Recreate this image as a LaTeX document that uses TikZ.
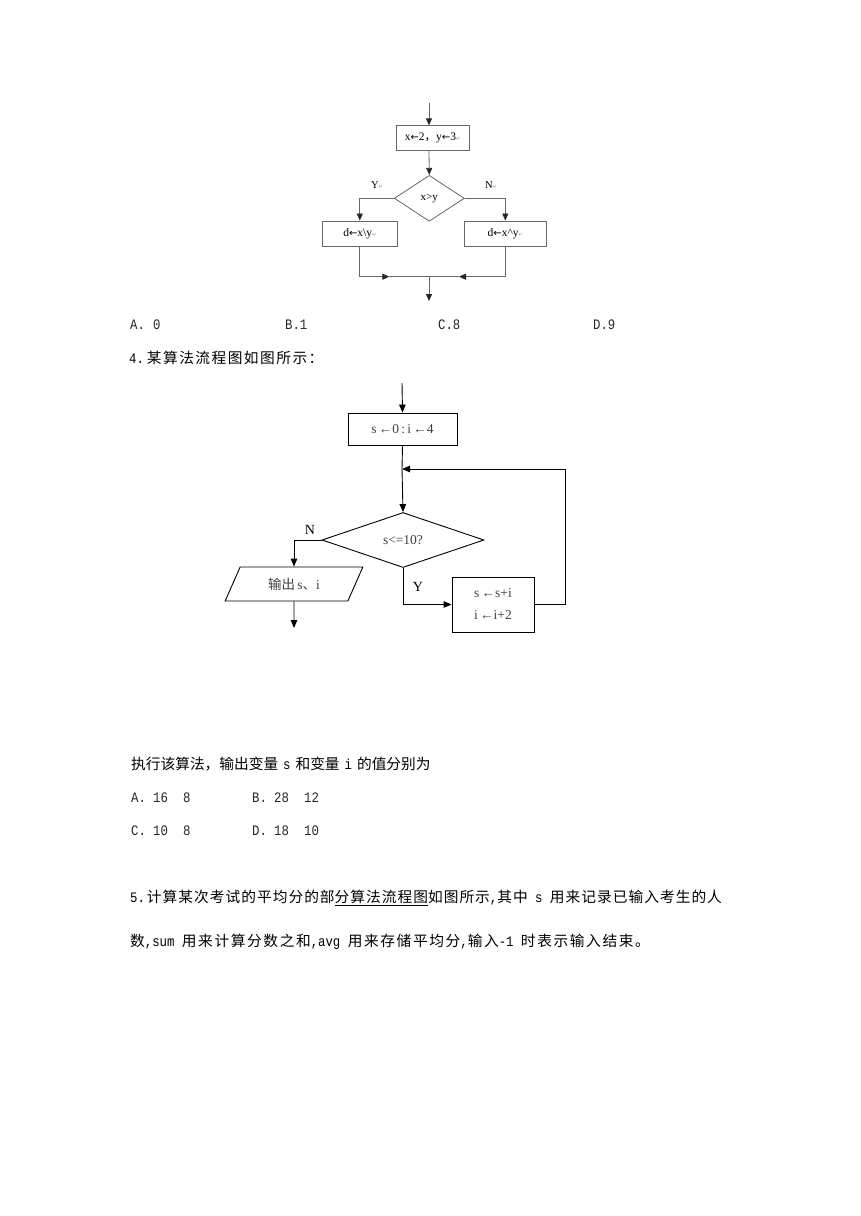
\documentclass[tikz,border=0pt]{standalone}
\usepackage{fontspec}
\setmainfont{Liberation Serif}
\newfontfamily\cjk{Noto Sans CJK SC}
\newfontfamily\cjkA[LetterSpace=10]{Noto Sans CJK SC}
\newfontfamily\cjkB[LetterSpace=7]{Noto Sans CJK SC}
\newfontfamily\cjkC[LetterSpace=11]{Noto Sans CJK SC}
\newfontfamily\mono[FakeStretch=0.85]{Liberation Mono}
\newfontfamily\symf{DejaVu Sans}
\usetikzlibrary{arrows.meta,shapes.geometric}
\newcommand{\rt}{{\symf\fontsize{5}{5}\selectfont\color{black!45}↵}}
\newcommand{\la}{{\symf\fontsize{10}{10}\selectfont ←}}
\newcommand{\lat}[1]{{\mono\fontsize{14.5}{16}\selectfont #1}}
\tikzset{
  gl/.style={draw=black!60, line width=0.8pt},
  bl/.style={draw=black, line width=0.9pt},
  tip1/.style={-{Triangle[length=7pt,width=6pt,color=black!85]}},
  tip2/.style={-{Triangle[length=8pt,width=6.5pt]}},
  boxa/.style={gl, rectangle, inner sep=0pt, font=\fontsize{11.5}{12}\selectfont},
  boxb/.style={bl, rectangle, inner sep=0pt, text=black!75, font=\fontsize{13.5}{22}\selectfont, align=center},
  lab/.style={inner sep=0pt, font=\fontsize{10.5}{12}\selectfont},
  labb/.style={inner sep=0pt, font=\fontsize{14}{16}\selectfont},
  txt/.style={anchor=west, inner sep=0pt, font=\fontsize{14.7}{16}\selectfont},
  opt/.style={anchor=west, inner sep=0pt, text=black!85, font=\mono\fontsize{14.5}{16}\selectfont}
}
\begin{document}
\begin{tikzpicture}[x=1pt,y=-1pt]
\useasboundingbox (0,0) rectangle (860,1216);
% ---------- flowchart 1 ----------
\coordinate (f1top) at (429,103);
\node[boxa, minimum width=73, minimum height=24.5] (b1) at (432.5,138) {x\la2{\cjk ，}y\la3\rt};
\node[gl, diamond, inner sep=0pt, minimum width=70, minimum height=46, font=\fontsize{11}{12}\selectfont] (d1) at (429.3,198.3) {x>y};
\node[boxa, minimum width=75, minimum height=25.7] (lb) at (359.8,233.8) {d\la x\textbackslash y\rt};
\node[boxa, minimum width=82.7, minimum height=25.7] (rb) at (505.3,233.8) {d\la x\textasciicircum y\rt};
\node[lab] (ly) at (377,185) {Y\rt};
\node[lab] (ln) at (491,185) {N\rt};
\coordinate (aL) at (389.3,276.7);
\coordinate (aR) at (459,276.7);
\coordinate (jM) at (429,276.7);
\coordinate (e1) at (429,301);
\draw[gl, tip1] (f1top) -- (f1top |- b1.north);
\draw[gl, tip1] (f1top |- b1.south) -- (d1.north);
\draw[gl, tip1] (d1.west) -| (lb.north);
\draw[gl, tip1] (d1.east) -| (rb.north);
\draw[gl, tip1] (lb.south) |- (aL);
\draw[gl] (aL) -- (jM);
\draw[gl, tip1] (rb.south) |- (aR);
\draw[gl] (aR) -- (jM);
\draw[gl, tip1] (jM) -- (e1);
% ---------- text ----------
\node[opt] (oa) at (130,325) {\makebox[23pt][l]{A.}0};
\node[opt] (ob) at (285,325) {B.1};
\node[opt] (oc) at (438,325) {C.8};
\node[opt] (od) at (593,325) {D.9};
\node[txt] (q4) at (129,358) {\lat{4.}\hspace{3pt}{\cjkA 某算法流程图如图所示：}};
% ---------- flowchart 2 ----------
\coordinate (t2) at (402,383);
\node[boxb, minimum width=109, minimum height=32] (b2) at (402.5,429) {s\,←0\,:\,i\,←4};
\coordinate (j2) at (402,469);
\node[bl, diamond, inner sep=0pt, minimum width=162, minimum height=55, text=black!75, font=\fontsize{13.5}{16}\selectfont] (d2) at (403,540) {s<=10?};
\node[bl, trapezium, trapezium left angle=60, trapezium right angle=120, trapezium stretches=true, inner sep=0pt, minimum width=138, minimum height=34, text=black!75, font=\fontsize{13.5}{16}\selectfont] (p2) at (294,584) {{\cjk 输出}\,s{\cjk 、}i};
\node[boxb, minimum width=82, minimum height=55] (rb2) at (493,604.5) {s\,←s+i\\i\,←i+2};
\coordinate (lc) at (565,469);
\coordinate (pe) at (294,628);
\node[labb] (nn) at (310,530) {N};
\node[labb] (yy) at (418,587) {Y};
\draw[bl, tip2] (t2) -- (b2.north);
\draw[bl] (b2.south) -- (j2);
\draw[bl, tip2] (j2) -- (d2.north);
\draw[bl, tip2] (rb2.east) -| (lc) -- (j2);
\draw[bl, tip2] (d2.west) -| (p2.north);
\draw[bl, tip2] (p2.south) -- (pe);
\draw[bl, tip2] (d2.south) |- (rb2.west);
% ---------- text ----------
\node[txt] (q4b) at (131,764) {\cjk 执行该算法，输出变量\hspace{5pt}\lat{s}\hspace{5pt}和变量\hspace{5pt}\lat{i}\hspace{5pt}的值分别为};
\node[opt] (a4) at (131,798) {\makebox[22pt][l]{A.}\makebox[30pt][l]{16}8};
\node[opt] (b4) at (252,798) {\makebox[22pt][l]{B.}\makebox[30pt][l]{28}12};
\node[opt] (c4) at (131,831) {\makebox[22pt][l]{C.}\makebox[30pt][l]{10}8};
\node[opt] (d4) at (252,831) {\makebox[22pt][l]{D.}\makebox[30pt][l]{18}10};
\node[txt] (q5a) at (130,898) {\lat{5.}\hspace{2pt}{\cjkB 计算某次考试的平均分的部\underline{分算法流程图}如图所示}\lat{,}{\cjkB 其中}\lat{\ s\ }{\cjkB 用来记录已输入考生的人}};
\node[txt] (q5b) at (130,942) {{\cjkC 数}\lat{,sum\ }{\cjkC 用来计算分数之和}\lat{,avg\ }{\cjkC 用来存储平均分}\lat{,}{\cjkC 输入}\lat{-1\ }{\cjkC 时表示输入结束。}};
\end{tikzpicture}
\end{document}
